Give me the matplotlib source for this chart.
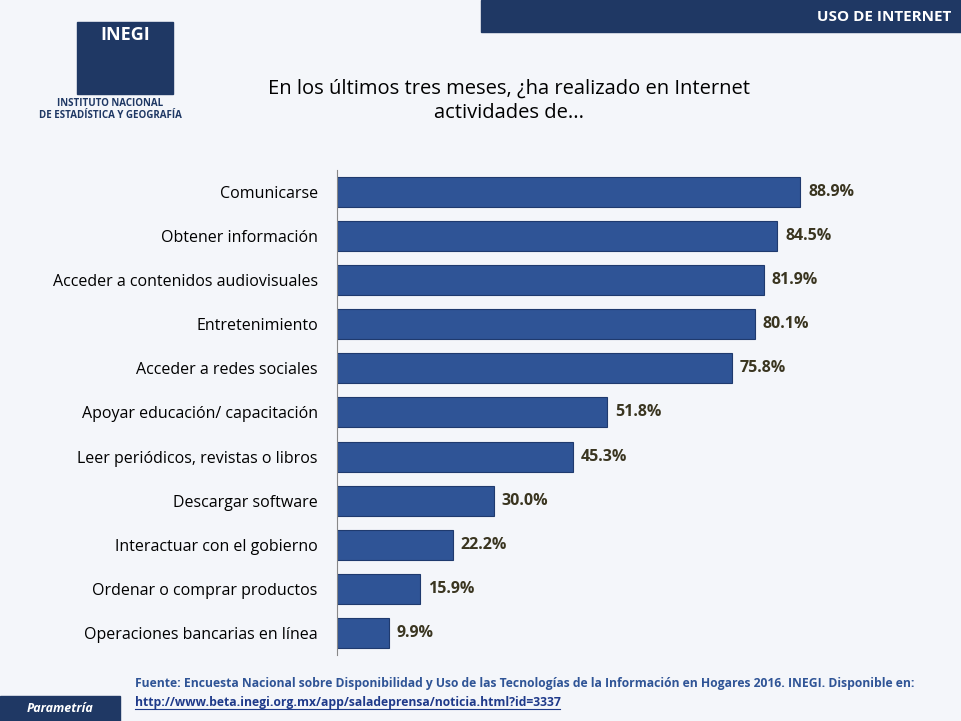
import matplotlib.pyplot as plt
from matplotlib.patches import Rectangle

plt.rcParams['font.family'] = ['Open Sans', 'DejaVu Sans']

BARCOLOR = '#2f5496'  # color de barras
LABELCOLOR = '#3a3520'
NAVY = '#1f3864'

actividades = ['Comunicarse', 'Obtener información', 'Acceder a contenidos audiovisuales',
               'Entretenimiento', 'Acceder a redes sociales', 'Apoyar educación/ capacitación',
               'Leer periódicos, revistas o libros', 'Descargar software',
               'Interactuar con el gobierno', 'Ordenar o comprar productos',
               'Operaciones bancarias en línea']
porcentajes = [88.9, 84.5, 81.9, 80.1, 75.8, 51.8, 45.3, 30.0, 22.2, 15.9, 9.9]

fig = plt.figure(figsize=(9.61, 7.21), dpi=100)
fig.patch.set_facecolor('#f4f6fa')

ax = fig.add_axes([0.351, 0.0915, 0.542, 0.673])
ax.set_facecolor('none')
pos = list(range(len(actividades)))[::-1]
ax.barh(pos, porcentajes, height=0.68, color=BARCOLOR, edgecolor='#1f3a6e', lw=0.8)
for p, v in zip(pos, porcentajes):
    ax.text(v + 1.5, p, '%.1f%%' % v, va='center', ha='left', fontsize=11.5,
            fontweight='bold', color=LABELCOLOR)
ax.set_yticks(pos)
ax.set_yticklabels(actividades, fontsize=11.5)
ax.set_xlim(0, 100)
ax.set_ylim(-0.5, 10.5)
ax.set_xticks([])
ax.tick_params(axis='y', length=0, pad=14)
for s in ['top', 'right', 'bottom']:
    ax.spines[s].set_visible(False)
ax.spines['left'].set_color('#888888')

# encabezado
fig.patches.append(Rectangle((0.5, 0.955), 0.5, 0.045, transform=fig.transFigure,
                             color=NAVY, zorder=0))
fig.text(0.99, 0.977, 'USO DE INTERNET', ha='right', va='center', color='white',
         fontsize=11, fontweight='bold')
fig.text(0.53, 0.86, 'En los últimos tres meses, ¿ha realizado en Internet\nactividades de...',
         ha='center', va='center', fontsize=14.5, linespacing=1.3)

# logo
fig.patches.append(Rectangle((0.08, 0.87), 0.10, 0.10, transform=fig.transFigure,
                             color=NAVY, zorder=0))
fig.text(0.13, 0.952, 'INEGI', ha='center', va='center', color='white',
         fontsize=13, fontweight='bold')
fig.text(0.115, 0.848, 'INSTITUTO NACIONAL\nDE ESTADÍSTICA Y GEOGRAFÍA', ha='center',
         va='center', color=NAVY, fontsize=7, fontweight='bold')

# pie
fig.text(0.14, 0.052, 'Fuente: Encuesta Nacional sobre Disponibilidad y Uso de las Tecnologías '
         'de la Información en Hogares 2016. INEGI. Disponible en:', fontsize=8.7,
         fontweight='bold', color='#2f5496', va='center')
url = fig.text(0.14, 0.025, 'http://www.beta.inegi.org.mx/app/saladeprensa/noticia.html?id=3337',
               fontsize=8.7, fontweight='bold', color='#1f3a8a', va='center')
fig.canvas.draw()
bb = url.get_window_extent().transformed(fig.transFigure.inverted())
fig.add_artist(plt.Line2D([bb.x0, bb.x1], [bb.y0, bb.y0], color='#1f3a8a', lw=0.8))
fig.patches.append(Rectangle((0.0, 0.0), 0.125, 0.035, transform=fig.transFigure,
                             color=NAVY, zorder=0))
fig.text(0.062, 0.017, 'Parametría', ha='center', va='center', color='white',
         fontsize=9, style='italic', fontweight='bold')

fig.savefig('out.png', dpi=100, facecolor=fig.get_facecolor())
